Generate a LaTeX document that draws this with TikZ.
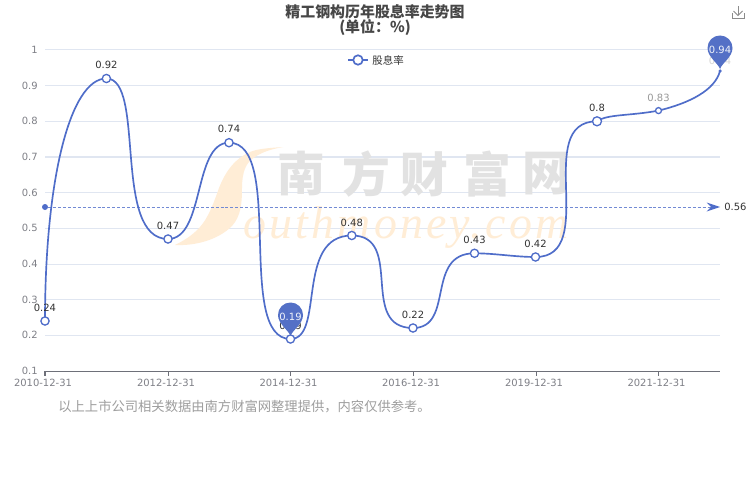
\documentclass[tikz,border=0pt]{standalone}
\usepackage{fontspec}
\setmainfont{DejaVu Sans}
\newfontfamily\cjk{Noto Sans CJK SC}
\newfontfamily\wmfont[LetterSpace=7]{Liberation Serif}
\definecolor{series}{HTML}{4F6DC9}
\definecolor{pinblue}{HTML}{5470C6}
\definecolor{gridc}{HTML}{E0E6F1}
\definecolor{axisc}{HTML}{6E7079}
\definecolor{ticktext}{HTML}{7F8087}
\definecolor{valtext}{HTML}{333333}
\definecolor{wmgray}{HTML}{E2E2E2}
\definecolor{wmorange}{HTML}{FFEDD6}
\tikzset{
  gridline/.style={gridc,line width=0.57pt},
  ticklabel/.style={text=ticktext,font=\fontsize{5.67}{6}\selectfont,inner sep=0pt},
  vallabel/.style={text=valtext,font=\fontsize{5.67}{6}\selectfont,inner sep=0pt},
  dot/.style={circle,draw=series,fill=white,line width=0.75pt,inner sep=0pt,minimum size=#1*0.04cm},
  cjkgray/.style={text=wmgray,font=\cjk\bfseries\fontsize{27.2}{28}\selectfont,inner sep=0pt},
  pinmark/.pic={
    \fill[pinblue] (0,0) .. controls (-2,-6) and (-12.5,-12) .. (-12.5,-21)
      .. controls (-12.5,-28) and (-7,-33.5) .. (0,-33.5)
      .. controls (7,-33.5) and (12.5,-28) .. (12.5,-21)
      .. controls (12.5,-12) and (2,-6) .. (0,0) -- cycle;
  }
}
\begin{document}
\begin{tikzpicture}[x=0.02cm,y=-0.02cm]
\useasboundingbox (0,0) rectangle (750,500);
\fill[white] (0,0) rectangle (750,500);
% grid
\foreach \v/\t in {50/1,85.67/0.9,121.33/0.8,157/0.7,192.67/0.6,228.33/0.5,264/0.4,299.67/0.3,335.33/0.2}{
  \draw[gridline] (45,\v) -- (720,\v);
  \node[ticklabel,anchor=east] at (38,\v) {\t};
}
\node[ticklabel,anchor=east] at (38,371) {0.1};
% watermark
\fill[wmorange] (283,147) .. controls (268,148) and (257,149) .. (250,152)
  .. controls (236,158) and (226,170) .. (219,188)
  .. controls (213,205) and (208,218) .. (200,227)
  .. controls (192,236) and (183,241) .. (175,245)
  .. controls (195,246) and (218,240) .. (232,226)
  .. controls (241,216) and (242,203) .. (242,188)
  .. controls (242,172) and (246,162) .. (255,157)
  .. controls (262,152) and (272,149) .. (283,147) -- cycle;
\foreach \x/\c/\n in {301/南/wa,366/方/wb,424/财/wc,487/富/wd,546/网/we}{
  \node[cjkgray] (\n) at (\x,174) {\c};
}
\node[text=wmorange,font=\wmfont\itshape\fontsize{26.1}{28}\selectfont,inner sep=0pt,anchor=base west] (wmlatin) at (243,238) {outhmoney.com};
% axis
\draw[axisc,line width=0.57pt] (45,371) -- (720,371);
\foreach \x/\t/\n in {45/2010-12-31/xa,168/2012-12-31/xb,290.5/2014-12-31/xc,413/2016-12-31/xd,536/2019-12-31/xe,658.5/2021-12-31/xf}{
  \draw[axisc,line width=0.57pt] (\x,371) -- (\x,376);
  \node[ticklabel] (\n) at ({\x-2},383) {\t};
}
% mean line
\node[circle,fill=series,inner sep=0pt,minimum size=0.12cm] (mstart) at (45,207) {};
\coordinate (mend) at (711,207);
\draw[series!80!white,line width=0.55pt,dash pattern=on 1.7pt off 1.1pt] (mstart) -- (mend);
\fill[series] (720,207) -- (706.5,202.5) -- (711,207) -- (706.5,211.5) -- cycle;
\node[vallabel,anchor=west] (mlabel) at (724,207) {0.56};
% points
\coordinate (p0) at (45,321);
\coordinate (p1) at (106.4,78.5);
\coordinate (p2) at (168,239);
\coordinate (p3) at (229,142.7);
\coordinate (p4) at (290.5,339);
\coordinate (p5) at (351.8,235.5);
\coordinate (p6) at (413,328);
\coordinate (p7) at (474.5,253.3);
\coordinate (p8) at (535.5,257);
\coordinate (p9) at (597,121.3);
\coordinate (p10) at (658.5,110.6);
\coordinate (p11) at (720,71);
\draw[series,line width=0.95pt] (p0)
  .. controls (45,180) and (70,78.5) .. (p1)
  .. controls (146,78.5) and (112,239) .. (p2)
  .. controls (205,239) and (193,142.7) .. (p3)
  .. controls (285,142.7) and (235,339) .. (p4)
  .. controls (325,339) and (295,235.5) .. (p5)
  .. controls (405,235.5) and (358,328) .. (p6)
  .. controls (455,328) and (425,253.3) .. (p7)
  .. controls (495,253.3) and (515,257) .. (p8)
  .. controls (600,257) and (532,121.3) .. (p9)
  .. controls (607,114) and (630,116) .. (p10)
  .. controls (690,103) and (715,90) .. (p11);
% markers
\foreach \p/\r/\n in {p0/4.1/ma,p1/4.1/mb,p2/4.1/mc,p3/4.1/md,p4/4.1/me,p5/4.1/mf,p6/4.1/mg,p7/4.1/mh,p8/4.1/mi,p9/4.5/mj,p10/3/mk}{
  \node[dot=\r] (\n) at (\p) {};
}
\node[circle,fill=series,inner sep=0pt,minimum size=0.07cm] (ml) at (p11) {};
% value labels
\node[vallabel] (la) at (45,308) {0.24};
\node[vallabel] (lb) at (106.4,65) {0.92};
\node[vallabel] (lc) at (168,226) {0.47};
\node[vallabel] (ld) at (229,129) {0.74};
\node[vallabel] (le) at (290.5,326) {0.19};
\node[vallabel] (lf) at (351.8,222.5) {0.48};
\node[vallabel] (lg) at (413,315) {0.22};
\node[vallabel] (lh) at (474.5,240) {0.43};
\node[vallabel] (li) at (535.5,243.5) {0.42};
\node[vallabel] (lj) at (597,108) {0.8};
\node[vallabel,text=valtext!50!white] (lk) at (658.5,98) {0.83};
\node[vallabel,text=valtext!20!white] (ll) at (720,61) {0.94};
% pins
\pic at (720,69) {pinmark};
\pic at (290.5,336) {pinmark};
\node[vallabel,text=white!92!pinblue] (pa) at (720,49.5) {0.94};
\node[vallabel,text=white!92!pinblue] (pb) at (290.5,317) {0.19};
% legend
\coordinate (lega) at (348,60);
\coordinate (legb) at (368,60);
\draw[series,line width=0.95pt] (lega) -- (legb);
\node[circle,draw=series,fill=white,line width=0.95pt,inner sep=0pt,minimum size=0.19cm] (legm) at (358,60) {};
\node[text=valtext,font=\cjk\fontsize{5.95}{6}\selectfont,inner sep=0pt,anchor=west] (legt) at (372,60) {股息率};
% title
\node[text=black!72,font=\cjk\bfseries\fontsize{8.5}{9}\selectfont,inner sep=0pt] (t1) at (375,11.5) {精工钢构历年股息率走势图};
\node[text=black!72,font=\cjk\bfseries\fontsize{8.5}{9}\selectfont,inner sep=0pt] (t2) at (375,27.5) {(单位：\%)};
% footer
\node[text=black!38,font=\cjk\fontsize{7.57}{8}\selectfont,inner sep=0pt,anchor=west] (foot) at (58,406.5) {以上上市公司相关数据由南方财富网整理提供，内容仅供参考。};
% download icon
\draw[black!45,line width=0.5pt] (732,13) -- (732,18.5) -- (744,18.5) -- (744,13);
\draw[black!45,line width=0.5pt] (738,6.5) -- (738,15);
\draw[black!45,line width=0.5pt] (733.5,11) -- (738,15.5) -- (742.5,11);
\end{tikzpicture}
\end{document}
